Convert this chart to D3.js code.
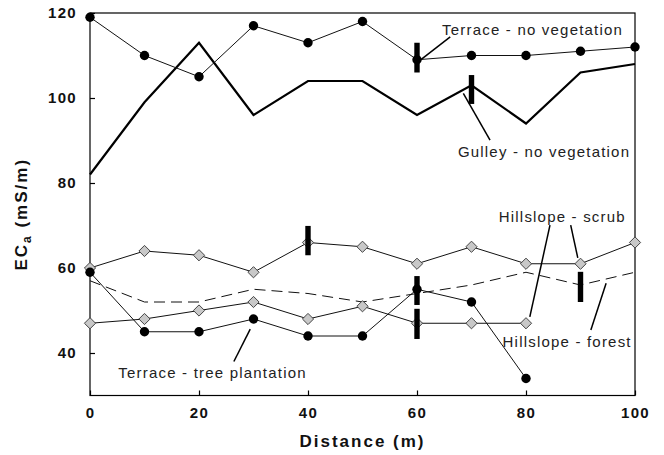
<!DOCTYPE html>
<html>
<head>
<meta charset="utf-8">
<script src="https://cdn.jsdelivr.net/npm/d3@7.9.0/dist/d3.min.js"></script>
<style>
  body { margin: 0; background: #fff; }
  text { font-family: Arial, "Liberation Sans", sans-serif; }
</style>
</head>
<body>
<div id="chart"></div>
<script>
// --- Data ---
const distance = [0, 10, 20, 30, 40, 50, 60, 70, 80, 90, 100];

const terraceNoVeg = [119, 110, 105, 117, 113, 118, 109, 110, 110, 111, 112];
const gulleyNoVeg = [82, 99, 113, 96, 104, 104, 96, 103, 94, 106, 108];
const scrubUpper = [60, 64, 63, 59, 66, 65, 61, 65, 61, 61, 66];
const scrubLower = [47, 48, 50, 52, 48, 51, 47, 47, 47];
const forest = [57, 52, 52, 55, 54, 52, 54, 56, 59, 56, 59];
const treePlantation = [59, 45, 45, 48, 44, 44, 55, 52, 34];

// thick vertical boundary marks: x, low, high
const markX = [60, 70, 40, 60, 60, 90];
const markLo = [106, 98.6, 63, 51.3, 43.3, 52];
const markHi = [113, 105.4, 69.9, 58.1, 50.4, 59.1];

// annotations: text, text anchor point, leader lines (data units)
const labels = [
  { text: "Terrace - no vegetation", x: 64.6, y: 114.8, lines: [[66.1, 114.4, 60.6, 108.9]] },
  { text: "Gulley - no vegetation", x: 67.5, y: 86.1, lines: [[73.4, 90.1, 68.5, 101.1]] },
  { text: "Hillslope - scrub", x: 75.0, y: 70.8, lines: [[84.4, 70.1, 80.7, 48.5], [88.2, 70.1, 89.5, 62.4]] },
  { text: "Hillslope - forest", x: 75.7, y: 41.3, lines: [[91.9, 45.4, 94.7, 56.4]] },
  { text: "Terrace - tree plantation", x: 5.2, y: 34.1, lines: [[26.4, 38, 29.4, 45.6]] }
];

const xTicks = [0, 20, 40, 60, 80, 100];
const yTicks = [40, 60, 80, 100, 120];

// --- Setup ---
const W = 664, H = 455;
const L = 90, R = 635, T = 13, B = 395.5;

const x = d3.scaleLinear().domain([0, 100]).range([L, R]);
const y = d3.scaleLinear().domain([30, 120]).range([B, T]);

const svg = d3.select("#chart").append("svg").attr("width", W).attr("height", H);

const pts = (vals) => vals.map((v, i) => [distance[i], v]);
const line = d3.line().x((d) => x(d[0])).y((d) => y(d[1]));

// frame
svg.append("rect")
  .attr("x", L).attr("y", T)
  .attr("width", R - L).attr("height", B - T)
  .attr("fill", "none").attr("stroke", "#000").attr("stroke-width", 1.2);

// axes (ticks inward)
const xAxis = svg.append("g").attr("transform", `translate(0,${B})`)
  .call(d3.axisBottom(x).tickValues(xTicks).tickSizeInner(-5).tickSizeOuter(0).tickPadding(12));
const yAxis = svg.append("g").attr("transform", `translate(${L},0)`)
  .call(d3.axisLeft(y).tickValues(yTicks).tickSizeInner(-5).tickSizeOuter(0).tickPadding(13));
[xAxis, yAxis].forEach((g) => {
  g.select(".domain").remove();
  g.selectAll("line").attr("stroke", "#000").attr("stroke-width", 1.2);
  g.selectAll("text")
    .attr("font-family", "Arial, 'Liberation Sans', sans-serif")
    .attr("font-size", 15).attr("font-weight", "bold")
    .attr("letter-spacing", 1.3).attr("fill", "#111");
});

// axis titles
svg.append("text")
  .attr("x", (L + R) / 2).attr("y", 447)
  .attr("text-anchor", "middle")
  .attr("font-size", 17).attr("font-weight", "bold").attr("letter-spacing", 2)
  .attr("fill", "#111")
  .text("Distance (m)");

const yt = svg.append("text")
  .attr("transform", `translate(27,${(T + B) / 2 + 10}) rotate(-90)`)
  .attr("text-anchor", "middle")
  .attr("font-size", 17).attr("font-weight", "bold").attr("letter-spacing", 2)
  .attr("fill", "#111");
yt.append("tspan").text("EC");
yt.append("tspan").attr("font-size", 12).attr("dy", 4).text("a");
yt.append("tspan").attr("dy", -4).text(" (mS/m)");

// lines
svg.append("path").datum(pts(forest))
  .attr("d", line).attr("fill", "none").attr("stroke", "#111")
  .attr("stroke-width", 1).attr("stroke-dasharray", "11,6");

svg.append("path").datum(pts(gulleyNoVeg))
  .attr("d", line).attr("fill", "none").attr("stroke", "#000").attr("stroke-width", 2.2);

[terraceNoVeg, scrubUpper, scrubLower, treePlantation].forEach((s) => {
  svg.append("path").datum(pts(s))
    .attr("d", line).attr("fill", "none").attr("stroke", "#111").attr("stroke-width", 1);
});

// diamonds
const diamond = d3.symbol().type(d3.symbolDiamond2).size(80);
[scrubUpper, scrubLower].forEach((s) => {
  svg.append("g").selectAll("path").data(pts(s)).join("path")
    .attr("d", diamond)
    .attr("transform", (d) => `translate(${x(d[0])},${y(d[1])})`)
    .attr("fill", "#c8c8c8").attr("stroke", "#444").attr("stroke-width", 1);
});

// filled circles
[terraceNoVeg, treePlantation].forEach((s) => {
  svg.append("g").selectAll("circle").data(pts(s)).join("circle")
    .attr("cx", (d) => x(d[0])).attr("cy", (d) => y(d[1]))
    .attr("r", 4.7).attr("fill", "#000");
});

// boundary marks
svg.append("g").selectAll("rect").data(markX).join("rect")
  .attr("x", (d) => x(d) - 2.7).attr("width", 5.4)
  .attr("y", (d, i) => y(markHi[i])).attr("height", (d, i) => y(markLo[i]) - y(markHi[i]))
  .attr("fill", "#000");

// annotations
labels.forEach((lb) => {
  lb.lines.forEach((l) => {
    svg.append("line")
      .attr("x1", x(l[0])).attr("y1", y(l[1]))
      .attr("x2", x(l[2])).attr("y2", y(l[3]))
      .attr("stroke", "#000").attr("stroke-width", 1.5);
  });
  svg.append("text")
    .attr("x", x(lb.x)).attr("y", y(lb.y))
    .attr("font-size", 15).attr("letter-spacing", 1.2)
    .attr("fill", "#222")
    .text(lb.text);
});
</script>
</body>
</html>
